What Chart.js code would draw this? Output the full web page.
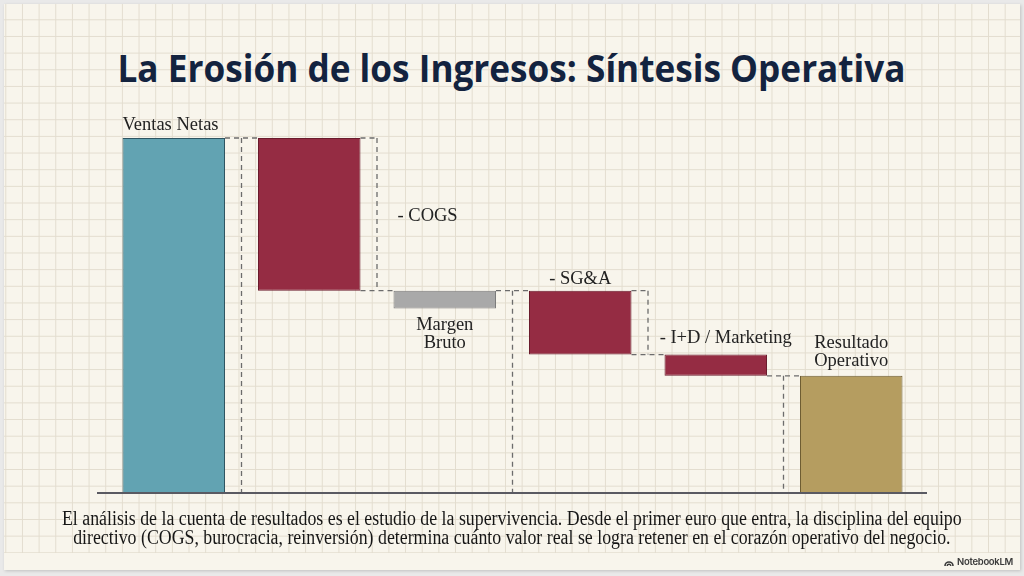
<!DOCTYPE html>
<html>
<head>
<meta charset="utf-8">
<script src="https://cdn.jsdelivr.net/npm/chart.js@4.4.1/dist/chart.umd.min.js"></script>
<style>
  html, body { margin:0; padding:0; width:1024px; height:576px; overflow:hidden; background:#e9e9e9; }
  #panel { position:absolute; left:4px; top:4px; width:1016px; height:566px; background:#f8f5ec;
           box-shadow:1px 1px 3px rgba(0,0,0,0.18); }
  #grid { position:absolute; left:4px; top:4px; width:1016px; height:549px;
          background-image:
            linear-gradient(to right, #e3ddcf 1px, transparent 1px),
            linear-gradient(to bottom, #e3ddcf 1px, transparent 1px);
          background-size:16.67px 16.67px;
          background-position:1.3px 15.3px; }
  #chartWrap { position:absolute; left:0; top:0; width:1024px; height:576px; }
  #title { position:absolute; left:0; top:49px; width:1024px; text-align:center; line-height:1; white-space:nowrap; }
  #title span { display:inline-block; font-family:"Open Sans"; font-weight:700; font-size:37px; color:#13233f;
                transform-origin:50% 50%; }
  #footer { position:absolute; left:0; top:509px; width:1024px; text-align:center; white-space:nowrap; }
  #footer .inner { display:inline-block; font-family:"Liberation Serif"; font-size:20px; line-height:19px; color:#161616;
                   transform-origin:50% 50%; }
  #brand { position:absolute; right:11px; top:556px; font-family:Inter, Roboto, sans-serif; font-size:9.5px; font-weight:600;
           color:#3a3a3a; letter-spacing:-0.3px; display:flex; align-items:center; gap:3px; white-space:nowrap; }
</style>
</head>
<body>
<div id="panel"></div>
<div id="grid"></div>
<div id="title"><span id="titleText">La Erosión de los Ingresos: Síntesis Operativa</span></div>
<div id="chartWrap"><canvas id="c" width="1024" height="576"></canvas></div>
<div id="footer"><div class="inner" id="footInner"><span id="l1">El análisis de la cuenta de resultados es el estudio de la supervivencia. Desde el primer euro que entra, la disciplina del equipo</span><br><span>directivo (COGS, burocracia, reinversión) determina cuánto valor real se logra retener en el corazón operativo del negocio.</span></div></div>
<div id="brand"><svg width="10" height="8" viewBox="0 0 10 8"><path d="M1 8 A4 4 0 0 1 9 8" fill="none" stroke="#3a3a3a" stroke-width="1.6"/><path d="M3.2 8 A1.8 1.8 0 0 1 6.8 8" fill="none" stroke="#3a3a3a" stroke-width="1.4"/></svg><span>NotebookLM</span></div>
<script>
// ---------- DATA ----------
const categories = ['Ventas Netas', '- COGS', 'Margen Bruto', '- SG&A', '- I+D / Marketing', 'Resultado Operativo'];
const barStart   = [0, 57, 52, 39, 33, 0];
const barEnd     = [100, 100, 57, 57, 39, 33];
// dashed connector brackets between consecutive bars
const connectorLevel = [100, 57, 57, 39, 33];
const connectorLow   = [0, 57, 0, 39, 0];
const connectorHigh  = [100, 100, 57, 57, 33];
const labelLines = [['Ventas Netas'], ['- COGS'], ['Margen', 'Bruto'], ['- SG&A'], ['- I+D / Marketing'], ['Resultado', 'Operativo']];

// ---------- STYLE ----------
const barColors  = ['#62a3b2', '#952c43', '#a9a9a9', '#952c43', '#952c43', '#b59d60'];
const barBorders = ['#2f5562', '#6a1c2d', '#7c7c7c', '#6a1c2d', '#6a1c2d', '#6e5d33'];
const labelPlacement = ['aboveLeft', 'right', 'below', 'above', 'above', 'above'];
const labelShiftX = [0, 37, 0, 0, 10, 0];
const labelGapY   = [8.5, 0, 22, 7, 12, 9.5];

// fit title & footer widths
(function(){
  const t = document.getElementById('titleText');
  t.style.transform = 'scaleX(' + (788 / t.offsetWidth) + ')';
  const f = document.getElementById('footInner');
  const w = document.getElementById('l1').offsetWidth;
  f.style.transform = 'scaleX(' + (900 / w) + ')';
})();

const decor = {
  id: 'decor',
  beforeDatasetsDraw(chart) {
    const { ctx, scales: { x, y } } = chart;
    const meta = chart.getDatasetMeta(0);
    ctx.save();
    ctx.strokeStyle = '#6c6c6c';
    ctx.lineWidth = 1.3;
    ctx.setLineDash([5, 4]);
    const line = (x1, y1, x2, y2) => { ctx.beginPath(); ctx.moveTo(x1, y1); ctx.lineTo(x2, y2); ctx.stroke(); };
    for (let i = 0; i < connectorLevel.length; i++) {
      const a = meta.data[i], b = meta.data[i + 1];
      const aRight = a.x + a.width / 2, bLeft = b.x - b.width / 2;
      const mid = (x.getPixelForValue(i) + x.getPixelForValue(i + 1)) / 2;
      const yl = y.getPixelForValue(connectorLevel[i]);
      line(aRight, yl, bLeft, yl);
      line(mid, y.getPixelForValue(connectorHigh[i]), mid, y.getPixelForValue(connectorLow[i]));
      const other = connectorLevel[i] === connectorHigh[i] ? connectorLow[i] : connectorHigh[i];
      if (other !== 0) {
        const yo = y.getPixelForValue(other);
        line(aRight, yo, mid, yo);
      }
    }
    ctx.restore();
  },
  afterDatasetsDraw(chart) {
    const { ctx, chartArea, scales: { x, y } } = chart;
    const meta = chart.getDatasetMeta(0);
    ctx.save();
    // baseline
    const y0 = y.getPixelForValue(0);
    ctx.strokeStyle = '#5a5a62';
    ctx.lineWidth = 2.2;
    ctx.beginPath(); ctx.moveTo(chartArea.left - 9, y0); ctx.lineTo(chartArea.right + 8, y0); ctx.stroke();
    // labels
    ctx.fillStyle = '#222222';
    ctx.font = '18.5px "Liberation Serif"';
    ctx.textBaseline = 'alphabetic';
    const lh = 18;
    meta.data.forEach((bar, i) => {
      const left = bar.x - bar.width / 2, right = bar.x + bar.width / 2;
      const top = y.getPixelForValue(barEnd[i]), bottom = y.getPixelForValue(barStart[i]);
      const lines = labelLines[i];
      const p = labelPlacement[i];
      if (p === 'aboveLeft') {
        ctx.textAlign = 'left';
        lines.forEach((t, k) => ctx.fillText(t, left + labelShiftX[i], top - labelGapY[i] - (lines.length - 1 - k) * lh));
      } else if (p === 'right') {
        ctx.textAlign = 'left';
        const mid = (top + bottom) / 2;
        lines.forEach((t, k) => ctx.fillText(t, right + labelShiftX[i], mid + 6.5 + (k - (lines.length - 1) / 2) * lh));
      } else if (p === 'below') {
        ctx.textAlign = 'center';
        lines.forEach((t, k) => ctx.fillText(t, bar.x + labelShiftX[i], bottom + labelGapY[i] + k * lh));
      } else {
        ctx.textAlign = 'center';
        lines.forEach((t, k) => ctx.fillText(t, bar.x + labelShiftX[i], top - labelGapY[i] - (lines.length - 1 - k) * lh));
      }
    });
    ctx.restore();
  }
};

new Chart(document.getElementById('c'), {
  type: 'bar',
  data: {
    labels: categories,
    datasets: [{
      data: barStart.map((s, i) => [s, barEnd[i]]),
      backgroundColor: barColors,
      borderColor: barBorders,
      borderWidth: 1,
      borderSkipped: false,
      barPercentage: 0.7565,
      categoryPercentage: 1
    }]
  },
  options: {
    responsive: false,
    animation: false,
    layout: { padding: { left: 106, right: 105, top: 138, bottom: 83 } },
    plugins: { legend: { display: false }, tooltip: { enabled: false }, title: { display: false } },
    scales: {
      x: { display: false },
      y: { display: false, min: 0, max: 100 }
    }
  },
  plugins: [decor]
});
</script>
</body>
</html>
